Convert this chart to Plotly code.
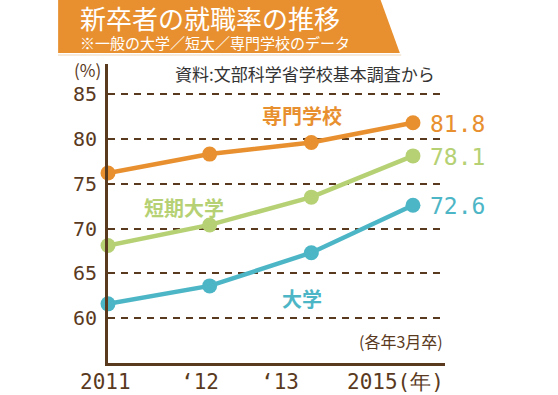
import plotly.graph_objects as go

# ---- data ----
categories = ["2011", "2012", "2013", "2015"]
tick_labels = ["2011", "‘12", "‘13", "2015(年)"]
series_names = ["専門学校", "短期大学", "大学"]
senmon = [76.2, 78.3, 79.6, 81.8]
tandai = [68.1, 70.4, 73.5, 78.1]
daigaku = [61.6, 63.6, 67.3, 72.6]
y_ticks = [60, 65, 70, 75, 80, 85]

title_text = "新卒者の就職率の推移"
subtitle_text = "※一般の大学／短大／専門学校のデータ"
source_text = "資料:文部科学省学校基本調査から"
note_text = "(各年3月卒)"
unit_text = "(%)"

ORANGE = "#E8902F"
GREEN = "#B6D174"
BLUE = "#4DB6C6"
BROWN = "#5A3A1E"
NUMFONT = "DejaVu Sans Mono, monospace"
JPFONT = "Noto Sans CJK JP, sans-serif"

xi = list(range(len(categories)))

fig = go.Figure()
for vals, col in [(senmon, ORANGE), (tandai, GREEN), (daigaku, BLUE)]:
    fig.add_trace(go.Scatter(
        x=xi, y=vals, mode="lines+markers",
        line=dict(color=col, width=4.5),
        marker=dict(color=col, size=15),
        cliponaxis=False, showlegend=False, hoverinfo="skip",
    ))

annotations = []
# end value labels
for vals, col in [(senmon, ORANGE), (tandai, GREEN), (daigaku, BLUE)]:
    annotations.append(dict(
        x=xi[-1], y=vals[-1], xref="x", yref="y", text=f"{vals[-1]:.1f}",
        showarrow=False, xanchor="left", yanchor="middle", xshift=15, yshift=-1,
        font=dict(family=NUMFONT, size=23, color=col),
    ))
# series labels
for name, col, xpos, ypos in [
    (series_names[0], ORANGE, 1.91, 82.65),
    (series_names[1], GREEN, 0.75, 72.4),
    (series_names[2], BLUE, 1.91, 62.2),
]:
    annotations.append(dict(
        x=xpos, y=ypos, xref="x", yref="y", text=f"<b>{name}</b>",
        showarrow=False, xanchor="center", yanchor="middle",
        font=dict(family=JPFONT, size=20, color=col),
    ))
# x tick labels as annotations
for i, (lab, anchor, shift) in enumerate(zip(tick_labels,
                                              ["center", "center", "center", "left"],
                                              [-3, -10, -31, -68])):
    annotations.append(dict(
        x=xi[i], y=0, xref="x", yref="paper", text=lab, showarrow=False,
        xanchor=anchor, yanchor="middle", xshift=shift, yshift=-19,
        font=dict(family=NUMFONT, size=21, color=BROWN),
    ))
# texts
annotations += [
    dict(x=-0.089, y=1.154, xref="paper", yref="paper", text=title_text, showarrow=False,
         xanchor="left", yanchor="middle",
         font=dict(family=JPFONT, size=26, color="white")),
    dict(x=-0.089, y=1.071, xref="paper", yref="paper", text=subtitle_text, showarrow=False,
         xanchor="left", yanchor="middle",
         font=dict(family=JPFONT, size=15, color="white")),
    dict(x=0.193, y=0.967, xref="paper", yref="paper", text=source_text, showarrow=False,
         xanchor="left", yanchor="middle",
         font=dict(family=JPFONT, size=17, color="#333333")),
    dict(x=0.0, y=0.982, xref="paper", yref="paper", text=unit_text, showarrow=False,
         xanchor="right", yanchor="middle", xshift=-5,
         font=dict(family=JPFONT, size=17, color=BROWN)),
    dict(x=1.0, y=0.073, xref="paper", yref="paper", text=note_text, showarrow=False,
         xanchor="right", yanchor="middle",
         font=dict(family=JPFONT, size=16, color=BROWN)),
]

shapes = [
    dict(type="path", xref="paper", yref="paper",
         path="M -0.148,1.22 L 0.807,1.22 L 0.866,1.037 L -0.148,1.037 Z",
         fillcolor=ORANGE, line=dict(width=0), layer="below"),
    dict(type="line", xref="paper", yref="paper", x0=-0.148, x1=0.87, y0=1.03, y1=1.03,
         line=dict(color="#F4E3CF", width=1.5)),
]

fig.update_layout(
    width=558, height=395,
    margin=dict(l=108, r=113, t=64, b=32),
    paper_bgcolor="white", plot_bgcolor="white",
    annotations=annotations, shapes=shapes,
    xaxis=dict(range=[0, 3.315], showgrid=False, zeroline=False, showticklabels=False,
               ticks="", showline=True, linecolor=BROWN, linewidth=3, fixedrange=True),
    yaxis=dict(range=[55, 88.35], tickvals=y_ticks, showgrid=True, gridcolor=BROWN,
               gridwidth=2, griddash="7px,6px", zeroline=False, showline=True,
               linecolor=BROWN, linewidth=3, ticks="", ticklabelstandoff=4,
               tickfont=dict(family=NUMFONT, size=20, color=BROWN), fixedrange=True),
)

fig.write_html("out.html", config={"displayModeBar": False},
               post_script="document.body.style.margin='0px';document.body.style.padding='0px';")
